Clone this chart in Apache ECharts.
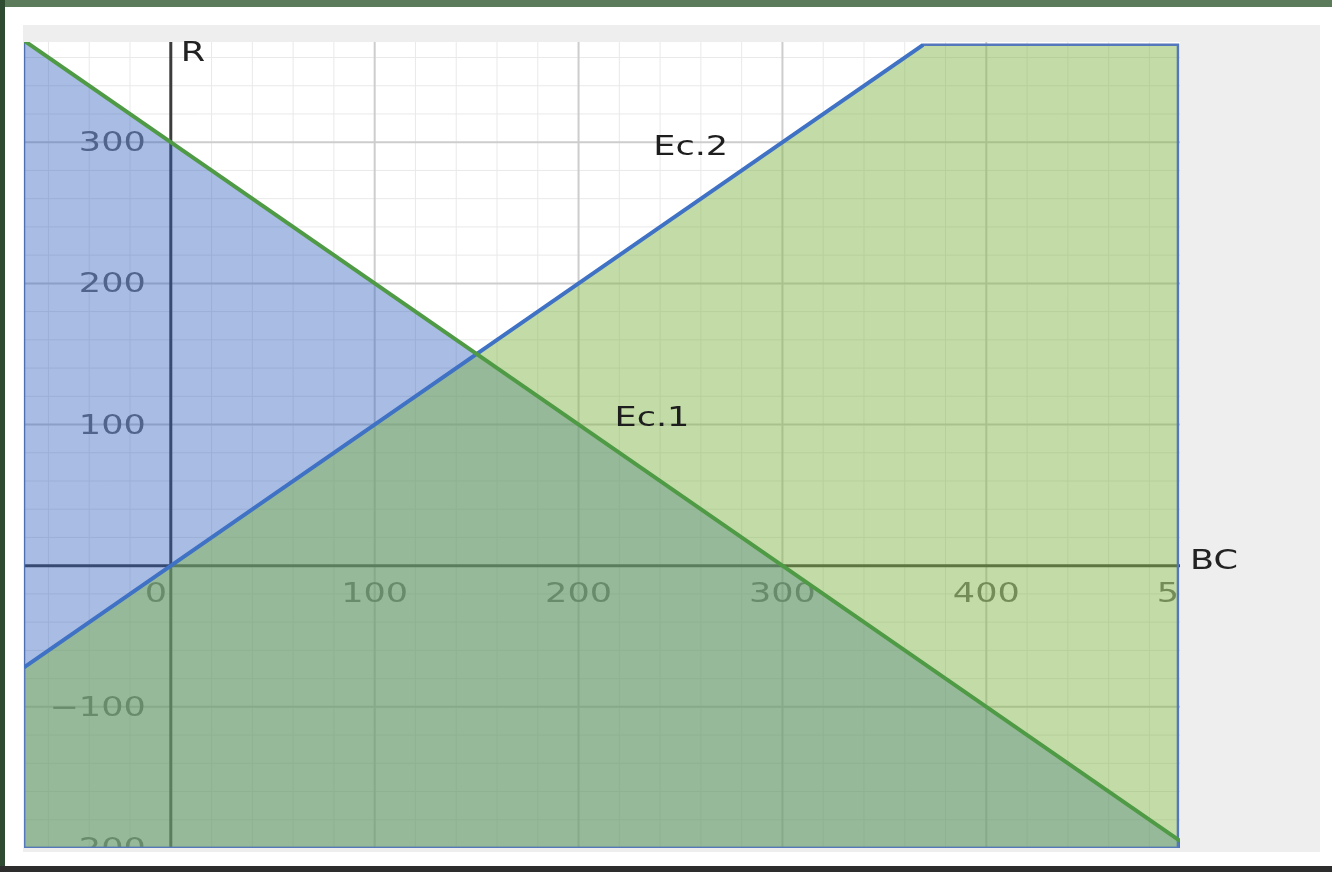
<!DOCTYPE html>
<html lang="es">
<head>
<meta charset="UTF-8">
<title>Ec.1 y Ec.2</title>
<script src="https://cdn.jsdelivr.net/npm/echarts@6/dist/echarts.min.js"></script>
<style>
  body { margin:0; width:1332px; height:872px; background:#fff; position:relative; overflow:hidden; }
  .topbar { position:absolute; left:0; top:0; width:1332px; height:7px; background:#5b7b5b; }
  .leftbar { position:absolute; left:0; top:0; width:5px; height:872px; background:#2e4a30; }
  .bottombar { position:absolute; left:0; top:866px; width:1332px; height:6px; background:#2d2d2d; }
  .panel { position:absolute; left:23px; top:25px; width:1297px; height:827px; background:#eeeeee; }
  #main { position:absolute; left:0; top:0; width:1332px; height:872px; }
</style>
</head>
<body>
<div class="topbar"></div>
<div class="leftbar"></div>
<div class="panel"></div>
<div class="bottombar"></div>
<div id="main"></div>
<script>
// visible window of the graph
const xMin = -72, xMax = 495, yMin = -200, yMax = 371;

// lines (endpoints)
const ec1Line = [[-72, 372], [495, -195]];   // R = 300 - BC
const ec2Line = [[-72, -72], [369, 369]];    // R = BC

// shaded regions
const region1 = [[-72, 372], [495, -195], [495, -200], [-72, -200]];
const region2 = [[-72, -72], [369, 369], [494, 369], [494, -200], [-72, -200]];

// tick labels
const xTicks = [100, 200, 300, 400, 500];
const xTickLabels = ['100', '200', '300', '400', '500'];
const yTicks = [300, 200, 100, -100, -200];
const yTickLabels = ['300', '200', '100', '\u2212100', '\u2212200'];

// grid lines
const majorX = [100, 200, 300, 400];
const majorY = [-100, 100, 200, 300];
const minorX = [], minorY = [];
for (let v = -60; v < xMax; v += 20) if (v % 100 !== 0) minorX.push(v);
for (let v = -180; v < yMax; v += 20) if (v % 100 !== 0) minorY.push(v);

const textFont = '27px "DejaVu Sans"';
const stretch = 1.3;

function seg(api, a, b, color, width) {
  const p1 = api.coord(a), p2 = api.coord(b);
  return { type: 'line', shape: { x1: p1[0], y1: p1[1], x2: p2[0], y2: p2[1] },
           style: { stroke: color, lineWidth: width } };
}
function poly(api, pts, fill, stroke) {
  return { type: 'polygon', shape: { points: pts.map(p => api.coord(p)) },
           style: { fill: fill, stroke: stroke, lineWidth: 2.5 } };
}
function label(x, y, text, color, align) {
  return { type: 'text', x: x, y: y, scaleX: stretch,
           style: { text: text, x: 0, y: 0, fill: color, font: textFont,
                    textAlign: align || 'center', textVerticalAlign: 'middle' } };
}

function renderPlot(params, api) {
  const kids = [];
  minorX.forEach(v => kids.push(seg(api, [v, yMin], [v, yMax], '#e9e9e9', 1)));
  minorY.forEach(v => kids.push(seg(api, [xMin, v], [xMax, v], '#e9e9e9', 1)));
  majorX.forEach(v => kids.push(seg(api, [v, yMin], [v, yMax], '#cdcdcd', 2)));
  majorY.forEach(v => kids.push(seg(api, [xMin, v], [xMax, v], '#cdcdcd', 2)));

  // axes
  kids.push(seg(api, [xMin, 0], [xMax, 0], '#3c3c3c', 3));
  kids.push(seg(api, [0, yMin], [0, yMax], '#3c3c3c', 3));

  // tick labels
  xTicks.forEach((v, i) => {
    const p = api.coord([v, 0]);
    kids.push(label(p[0], p[1] + 29, xTickLabels[i], '#686868'));
  });
  yTicks.forEach((v, i) => {
    const p = api.coord([0, v]);
    kids.push(label(p[0] - 25, p[1] + 2, yTickLabels[i], '#686868', 'right'));
  });
  const o = api.coord([0, 0]);
  kids.push(label(o[0] - 15, o[1] + 29, '0', '#686868'));

  // shaded inequalities
  kids.push(poly(api, region1, 'rgba(51,95,191,0.42)', '#4e6fb0'));
  kids.push(poly(api, region2, 'rgba(130,182,72,0.48)', '#5577bb'));

  // boundary lines
  kids.push(seg(api, ec2Line[0], ec2Line[1], '#3f72c4', 4));
  kids.push(seg(api, ec1Line[0], ec1Line[1], '#4f9a45', 4));

  // equation names
  const e2 = api.coord([255, 297]);
  kids.push(label(e2[0], e2[1] + 2, 'Ec.2', '#1e1e1e'));
  const e1 = api.coord([236, 105]);
  kids.push(label(e1[0], e1[1] + 2, 'Ec.1', '#1e1e1e'));
  return { type: 'group', children: kids };
}

function renderAxisNames(params, api) {
  const b = api.coord([xMax, 0]);
  const r = api.coord([0, yMax]);
  return { type: 'group', children: [
    label(b[0] + 10, b[1] - 4, 'BC', '#222', 'left'),
    label(r[0] + 10, r[1] + 12, 'R', '#222', 'left')
  ] };
}

const chart = echarts.init(document.getElementById('main'));
chart.setOption({
  animation: false,
  backgroundColor: 'transparent',
  grid: { left: 24, top: 42, width: 1156, height: 806, show: true,
          backgroundColor: '#ffffff', borderWidth: 0 },
  xAxis: { type: 'value', min: xMin, max: xMax, show: false },
  yAxis: { type: 'value', min: yMin, max: yMax, show: false },
  series: [
    { type: 'custom', clip: true, data: [0], renderItem: renderPlot, silent: true },
    { type: 'custom', clip: false, data: [0], renderItem: renderAxisNames, silent: true }
  ]
});
</script>
</body>
</html>
